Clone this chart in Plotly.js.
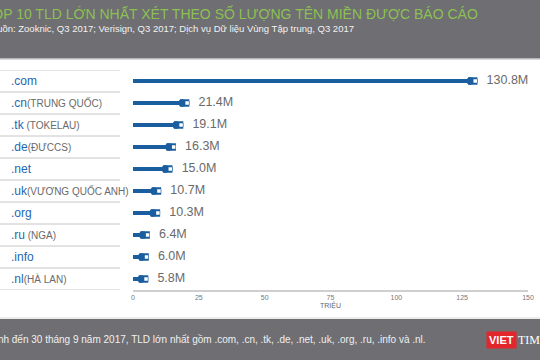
<!DOCTYPE html>
<html>
<head>
<meta charset="utf-8">
<script src="https://cdn.plot.ly/plotly-3.0.1.min.js"></script>
<style>html,body{margin:0;padding:0;background:#fff;}#chart{width:540px;height:360px;}</style>
</head>
<body>
<div id="chart"></div>
<script>
// ---- data ----
const tlds = ['.com', '.cn', '.tk', '.de', '.net', '.uk', '.org', '.ru', '.info', '.nl'];
const countries = ['', '(TRUNG QUỐC)', ' (TOKELAU)', '(ĐƯCCS)', '', '(VƯƠNG QUỐC ANH)', '', ' (NGA)', '', '(HÀ LAN)'];
const values = [130.8, 21.4, 19.1, 16.3, 15.0, 10.7, 10.3, 6.4, 6.0, 5.8];
const valueLabels = ['130.8M', '21.4M', '19.1M', '16.3M', '15.0M', '10.7M', '10.3M', '6.4M', '6.0M', '5.8M'];
const xTicks = [0, 25, 50, 75, 100, 125, 150];
const titleText = 'TOP 10 TLD LỚN NHẤT XÉT THEO SỐ LƯỢNG TÊN MIỀN ĐƯỢC BÁO CÁO';
const subtitleText = 'Nguồn: Zooknic, Q3 2017; Verisign, Q3 2017; Dịch vụ Dữ liệu Vùng Tập trung, Q3 2017';
const footerText = 'Tính đến 30 tháng 9 năm 2017, TLD lớn nhất gồm .com, .cn, .tk, .de, .net, .uk, .org, .ru, .info và .nl.';
const axisTitle = 'TRIỆU';

// ---- layout helpers ----
const W = 540, H = 360, ML = 133, MR = 12, MT = 70, MB = 70;
const PW = W - ML - MR, PH = H - MT - MB;
const px2x = p => (p - ML) / PW;
const py2y = p => (H - MB - p) / PH;
const blue = '#1b5e9f';
const plugLen = 3.6;
const idx = tlds.map((_, i) => i);

const traces = [
  { type: 'bar', orientation: 'h', x: values, y: idx, base: 0, width: 0.18,
    marker: { color: blue }, hoverinfo: 'skip', showlegend: false },
  { type: 'bar', orientation: 'h', x: values.map(() => plugLen), y: idx,
    base: values.map(v => v - plugLen), width: 0.34,
    marker: { color: blue }, hoverinfo: 'skip', showlegend: false },
  { type: 'scatter', mode: 'markers', x: values.map(v => v - plugLen + 0.9), y: idx,
    marker: { symbol: 'circle', size: 7.5, color: blue }, hoverinfo: 'skip', showlegend: false },
  { type: 'scatter', mode: 'markers', x: values.map(v => v - 0.85), y: idx,
    marker: { symbol: 'square', size: 3.5, color: '#ffffff' }, hoverinfo: 'skip', showlegend: false },
  { type: 'scatter', mode: 'markers+text', x: values, y: idx, text: valueLabels,
    textposition: 'middle right', textfont: { family: 'Liberation Sans, Arial', size: 12.5, color: '#6a6a6a' },
    marker: { size: 13, opacity: 0 }, hoverinfo: 'skip', showlegend: false }
];

const shapes = [
  { type: 'rect', xref: 'paper', yref: 'paper', x0: px2x(0), x1: px2x(W), y0: py2y(0), y1: py2y(58.5),
    fillcolor: '#6e6e73', line: { width: 0 }, layer: 'below' },
  { type: 'line', xref: 'paper', yref: 'paper', x0: px2x(0), x1: px2x(W), y0: py2y(59.5), y1: py2y(59.5),
    line: { color: '#d9d9d9', width: 1 }, layer: 'below' },
  { type: 'rect', xref: 'paper', yref: 'paper', x0: px2x(0), x1: px2x(W), y0: py2y(319), y1: py2y(H),
    fillcolor: '#6e6e73', line: { width: 0 }, layer: 'below' },
  { type: 'line', xref: 'paper', yref: 'paper', x0: px2x(0), x1: px2x(W), y0: py2y(318), y1: py2y(318),
    line: { color: '#d9d9d9', width: 1 }, layer: 'below' }
];
for (let i = 0; i <= tlds.length; i++) {
  shapes.push({ type: 'line', xref: 'paper', yref: 'y', x0: px2x(0), x1: px2x(120), y0: i - 0.5, y1: i - 0.5,
    line: { color: '#c6c6c6', width: 1 }, layer: 'below' });
}

const annotations = [
  { xref: 'paper', yref: 'paper', x: px2x(-18), y: py2y(13), xanchor: 'left', yanchor: 'middle',
    text: titleText, showarrow: false, font: { family: 'Liberation Sans, Arial', size: 14, color: '#8cc152' } },
  { xref: 'paper', yref: 'paper', x: px2x(-17), y: py2y(28), xanchor: 'left', yanchor: 'middle',
    text: subtitleText, showarrow: false, font: { family: 'Liberation Sans, Arial', size: 9.5, color: '#f2f2f2' } },
  { xref: 'paper', yref: 'paper', x: px2x(-13), y: py2y(339), xanchor: 'left', yanchor: 'middle',
    text: footerText, showarrow: false, font: { family: 'Liberation Sans, Arial', size: 10, color: '#f0f0f0' } },
  { xref: 'paper', yref: 'paper', x: px2x(486), y: py2y(340), xanchor: 'left', yanchor: 'middle',
    text: '<b>VIET</b>', showarrow: false, bgcolor: '#e3262b', borderpad: 2,
    font: { family: 'Liberation Sans, Arial', size: 11, color: '#ffffff' } },
  { xref: 'paper', yref: 'paper', x: px2x(516), y: py2y(340), xanchor: 'left', yanchor: 'middle',
    text: 'TIMES', showarrow: false, font: { family: 'Liberation Serif, serif', size: 12, color: '#ffffff' } }
];
tlds.forEach((t, i) => {
  annotations.push({ xref: 'paper', yref: 'y', x: px2x(9), y: i, xanchor: 'left', yanchor: 'middle',
    showarrow: false,
    text: '<span style="color:#2467b0;font-size:12px">' + t + '</span>' +
          (countries[i] ? '<span style="color:#6a6a6a;font-size:10px">' + countries[i] + '</span>' : ''),
    font: { family: 'Liberation Sans, Arial', size: 12, color: '#2467b0' } });
});

const layout = {
  width: W, height: H,
  margin: { l: ML, r: MR, t: MT, b: MB, pad: 0 },
  paper_bgcolor: '#ffffff', plot_bgcolor: 'rgba(0,0,0,0)',
  barmode: 'overlay', showlegend: false,
  font: { family: 'Liberation Sans, Arial', color: '#666' },
  xaxis: { range: [0, 150], tickvals: xTicks, ticktext: xTicks.map(String), showgrid: false, zeroline: false,
    showline: true, linecolor: '#cfcfcf', linewidth: 1.5, ticks: '', ticklen: 0,
    tickfont: { size: 7, color: '#777' },
    title: { text: axisTitle, font: { size: 7, color: '#666' }, standoff: 3 } },
  yaxis: { range: [9.5, -0.5], showticklabels: false, showgrid: false, zeroline: false, showline: false, ticks: '' },
  shapes: shapes, annotations: annotations
};

Plotly.newPlot('chart', traces, layout, { staticPlot: true, displayModeBar: false });
</script>
</body>
</html>
